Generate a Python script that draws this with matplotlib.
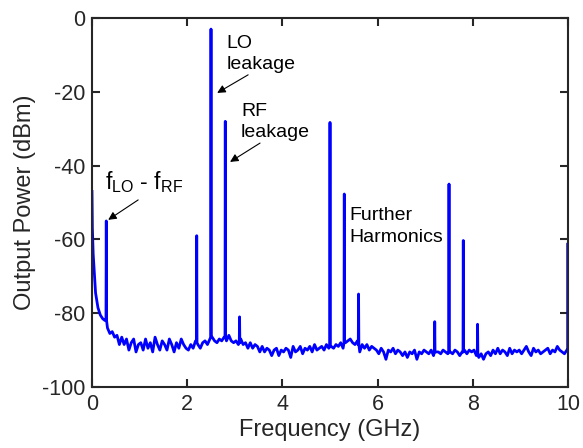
import numpy as np
import matplotlib
matplotlib.use('Agg')
import matplotlib.pyplot as plt

plt.rcParams['font.family'] = ['Liberation Sans', 'DejaVu Sans']
plt.rcParams['mathtext.fontset'] = 'custom'
plt.rcParams['mathtext.rm'] = 'Liberation Sans'
plt.rcParams['axes.unicode_minus'] = False

# Noise floor, one value every 0.05 GHz (0.025 ... 9.975)
noise_db = [
    -64, -74.5, -78.5, -80.5, -81.5, -82, -84, -85.5, -85, -86.5,
    -86, -88.5, -86.5, -88.5, -87, -90, -88, -87, -90.5, -88.5,
    -88, -90, -87, -89.5, -88, -90.5, -86.5, -88.5, -90, -87.5,
    -88.5, -90, -87, -88.5, -90.5, -88, -89.5, -87, -88.5, -89.5,
    -90, -88.5, -89.5, -87.5, -88.5, -89.5, -88, -87.5, -88.5, -87,
    -86.5, -87.5, -88, -87, -87.5, -86.5, -87.5, -86, -87.5, -88,
    -87.5, -88.5, -87, -88.5, -88, -89.5, -88, -89.5, -88.5, -89,
    -90.5, -89, -90.5, -89.5, -90, -91.5, -90, -89.5, -91.5, -90,
    -90.5, -89.5, -90, -92, -89, -90.5, -90, -89, -91, -89.5,
    -90, -89, -90.5, -88.5, -90, -89.5, -89, -90, -88.5, -89.5,
    -89, -89.5, -88.5, -89, -88, -89.5, -88, -87.5, -87, -88,
    -88.5, -87.5, -90.5, -88.5, -89.5, -88.5, -90, -89, -89.5, -90,
    -91, -89.5, -90.5, -92.5, -90, -90.5, -89.5, -91, -90, -90.5,
    -91.5, -90.5, -92, -90.5, -91, -90, -92.5, -90.5, -91, -90,
    -90.5, -91, -90, -91.5, -90.5, -90.5, -91, -90, -90.5, -91,
    -90.5, -91, -90, -90.5, -91.5, -90.5, -90, -91, -90, -90.5,
    -90, -91.5, -92, -91, -92.5, -91, -90.5, -91.5, -90, -91,
    -89.5, -91, -90, -90.5, -91.5, -89.5, -91, -90, -90.5, -90,
    -91, -90, -89, -90.5, -91.5, -89.5, -90.5, -90, -91, -90.5,
    -90, -89.5, -91, -90, -90.5, -89, -90, -90.5, -91, -90,
]
noise_freq = np.round(np.arange(0.025, 10.0, 0.05), 3)

# Start of the trace at DC
dc_freq = [0.0, 0.008]
dc_db = [-47, -57]

# Spectral lines (GHz, dBm) and the floor level under each
peak_freq = [0.3, 2.2, 2.5, 2.8, 3.1, 5.0, 5.3, 5.6, 7.2, 7.5, 7.8, 8.1, 10.0]
peak_db = [-55, -59, -3, -28, -81, -28.3, -47.7, -74.8, -82.3, -45, -60.3, -83, -61]
peak_base = [-82, -88, -86.5, -86.5, -88, -89, -88, -88.5, -90.5, -90.5, -90.5, -91, -90]

pf = np.array(peak_freq)
x = np.concatenate([dc_freq, noise_freq, pf - 0.006, pf, pf + 0.006])
y = np.concatenate([dc_db, noise_db, peak_base, peak_db, peak_base])
order = np.argsort(x, kind='stable')
x, y = x[order], y[order]

fig = plt.figure(figsize=(5.83, 4.48), dpi=100)
ax = fig.add_axes([0.1578, 0.1362, 0.8165, 0.8236])
ax.plot(x, y, color=(0, 0, 1), lw=2)

ax.set_xlim(0, 10)
ax.set_ylim(-100, 0)
xticks = [0, 2, 4, 6, 8, 10]
yticks = [-100, -80, -60, -40, -20, 0]
ax.set_xticks(xticks)
ax.set_xticklabels([str(t) for t in xticks])
ax.set_yticks(yticks)
ax.set_yticklabels([str(t) for t in yticks])
ax.tick_params(direction='in', length=6, width=1.5, top=True, right=True,
               labelsize=15.5, colors=(0.15, 0.15, 0.15), pad=5)
for s in ax.spines.values():
    s.set_linewidth(1.5)
    s.set_color((0.15, 0.15, 0.15))
ax.set_xlabel('Frequency (GHz)', fontsize=17, color=(0.15, 0.15, 0.15), labelpad=3)
ax.set_ylabel('Output Power (dBm)', fontsize=17, color=(0.15, 0.15, 0.15), labelpad=4)

arrow = dict(arrowstyle='-|>', color='black', lw=0.8, mutation_scale=12,
             shrinkA=0, shrinkB=0)
ax.text(2.82, -4.5, 'LO\nleakage', fontsize=14, va='top', ha='left', linespacing=1.35)
ax.annotate('', xy=(2.63, -20.3), xytext=(3.28, -15.4), arrowprops=arrow)
ax.text(3.13, -23, 'RF\nleakage', fontsize=14, va='top', ha='left', linespacing=1.35)
ax.annotate('', xy=(2.9, -39), xytext=(3.53, -33.9), arrowprops=arrow)
ax.text(0.27, -46.3, r'$\mathregular{f_{LO}}$ - $\mathregular{f_{RF}}$', fontsize=16.5,
        va='baseline', ha='left')
ax.annotate('', xy=(0.34, -54.7), xytext=(0.97, -49.3), arrowprops=arrow)
ax.text(5.4, -51.3, 'Further\nHarmonics', fontsize=14, va='top', ha='left',
        linespacing=1.35)

fig.savefig('out.png', dpi=100)
